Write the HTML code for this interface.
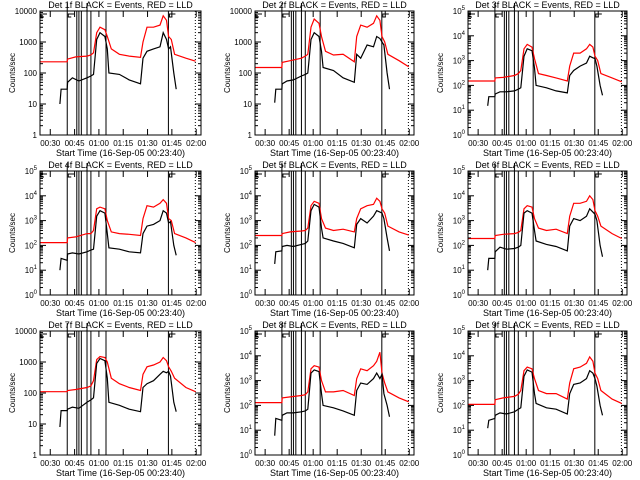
<!DOCTYPE html>
<html><head><meta charset="utf-8">
<style>
html,body{margin:0;padding:0;background:#fff;}
svg{display:block;font-family:"Liberation Sans",sans-serif;}
</style></head>
<body>
<svg id="chart" width="640" height="480" viewBox="0 0 640 480" xmlns="http://www.w3.org/2000/svg">
<rect width="640" height="480" fill="#fff"/>
</svg>
<script>
// Shared time axes (minutes after 16-Sep-05 00:23:40)
const redTimes = [0,16.8,17,22,29,31.4,33,35,37,40,41.5,44,49,55,62,63.5,66,70,74,76,78,79.3,81,83,90,96];
const blackTimes = [12.3,13,16.8,17,20,24,29,31.4,33,35,37,40,41.5,42.5,49,55,62,63.5,66,70,74,76,78,79.3,80.5,82.5,84];
const markerTimes = [16.8,22.7,24,25.5,29,31.4,40.7,79.2];
const dottedTime = 95.8;
const xTickLabels = ["00:30","00:45","01:00","01:15","01:30","01:45","02:00"];
const xTickTimes = [6.33,21.33,36.33,51.33,66.33,81.33,96.33];
const detNames = ["1f","2f","3f","4f","5f","6f","7f","8f","9f"];
const yTopDecade = [4,4,5,5,5,5,4,5,5];

const red1=[230,230,280,330,350,380,450,2000,3000,2500,1500,600,400,350,320,1000,3000,3000,3500,7000,5000,1500,1200,400,300,240];
const black1=[10,30,30,50,70,55,70,80,90,1200,2000,1500,600,100,90,60,45,300,500,600,700,2000,1200,600,700,100,30];
const red2=[150,150,220,250,300,350,400,3000,5500,4000,1500,500,380,400,230,1500,3500,3000,4000,7000,5000,1500,1000,400,250,160];
const black2=[11,30,30,45,55,60,80,90,100,1200,2000,1500,500,150,120,70,50,400,300,800,700,1500,1300,1000,800,100,30];
const red3=[150,150,200,210,250,300,400,3000,4500,3500,1200,300,250,200,150,600,2000,2000,3000,4500,3500,1500,1000,300,200,140];
const black3=[15,35,35,45,55,55,60,70,80,1500,3000,2500,500,100,80,60,50,250,400,600,800,1500,1300,1200,600,100,40];
const red4=[130,130,200,220,300,300,400,3000,3500,3000,1000,350,300,280,250,1200,4000,3500,5000,7000,5000,1200,1000,300,200,130];
const black4=[10,30,25,45,50,45,55,65,70,1500,2500,2000,300,80,70,55,50,300,600,700,1000,2500,2000,800,900,100,40];
const red5=[250,250,300,350,380,400,500,4000,6000,5000,1200,500,400,450,350,1200,3000,4000,4500,8000,6000,3000,2000,600,350,260];
const black5=[18,55,60,90,100,90,110,120,150,2500,4500,3500,500,200,150,120,80,700,1200,800,1500,2500,2200,2000,1200,200,60];
const red6=[190,190,250,280,300,330,400,3000,4000,3500,1200,500,400,450,300,1500,5000,5000,6000,10000,7000,2500,1500,600,300,190];
const black6=[10,30,30,55,85,70,75,85,100,2000,2500,2000,400,150,110,90,60,600,1200,1000,1500,3000,2200,1800,1000,100,35];
const red7=[110,110,120,130,150,170,250,1200,1500,1400,1000,300,200,150,120,400,700,800,1000,1400,1100,700,500,300,150,110];
const black7=[8,27,27,30,35,32,50,60,70,900,1300,1100,300,50,40,30,25,150,200,250,400,500,450,500,350,50,25];
const red8=[130,130,200,220,250,270,350,3000,4000,3500,1000,350,350,400,250,1200,3000,2500,4000,6000,14000,2000,800,350,200,140];
const black8=[6,30,25,40,50,50,55,60,70,2000,2700,2300,300,100,80,60,40,400,800,700,1200,2000,1200,1800,300,100,35];
const red9=[110,110,170,200,230,280,400,2500,3500,3000,1200,400,300,300,180,800,3000,3500,5000,9000,6000,2000,1200,400,180,120];
const black9=[12,25,30,40,50,45,55,70,80,1500,2700,2200,300,120,80,70,45,300,700,800,1200,2500,2000,1200,600,100,40];
const redSeries=[red1,red2,red3,red4,red5,red6,red7,red8,red9];
const blackSeries=[black1,black2,black3,black4,black5,black6,black7,black8,black9];

const NS="http://www.w3.org/2000/svg";
const svg=document.getElementById('chart');
const colX=[[40,201],[255,414],[468,627]];
const rowY=[[11,135],[171,295],[331,455]];
const TMAX=99.3;
function mk(tag,attrs,parent){const e=document.createElementNS(NS,tag);for(const k in attrs)e.setAttribute(k,attrs[k]);(parent||svg).appendChild(e);return e;}

for(let p=0;p<9;p++){
  const c=p%3,r=Math.floor(p/3);
  const x0=colX[c][0],x1=colX[c][1],y0=rowY[r][0],y1=rowY[r][1];
  const top=yTopDecade[p];
  const xs=t=>x0+(x1-x0)*t/TMAX;
  const ys=v=>y1-(y1-y0)*Math.log10(v)/top;
  const g=mk('g',{});
  
  

  markerTimes.forEach((t,i)=>{
    const ext=(i===0||i===4)?8:0;
    const l=mk('line',{x1:xs(t),x2:xs(t),y1:y0-ext,y2:y1,stroke:'#000','stroke-width':1},g);
    
    
  });
  const dl=mk('line',{x1:xs(dottedTime),x2:xs(dottedTime),y1:y0,y2:y1,stroke:'#000','stroke-width':1,'stroke-dasharray':'1,2'},g);
  
  
  [0,16.8,79.2].forEach(t=>{
    const b=mk('path',{d:`M${xs(t)+7},${y0+3}H${xs(t)+1}V${y0+6}H${xs(t)+4}`,fill:'none',stroke:'#000','stroke-width':1},g);
    
    
  });

  const rp=mk('polyline',{points:redTimes.map((t,i)=>xs(t).toFixed(1)+','+ys(redSeries[p][i]).toFixed(1)).join(' '),fill:'none',stroke:'#ff0000','stroke-width':1.2},g);
  
  
  const bp=mk('polyline',{points:blackTimes.map((t,i)=>xs(t).toFixed(1)+','+ys(blackSeries[p][i]).toFixed(1)).join(' '),fill:'none',stroke:'#000','stroke-width':1.2},g);
  
  

  const fr=mk('rect',{x:x0,y:y0,width:x1-x0,height:y1-y0,fill:'none',stroke:'#000','stroke-width':1},g);
  
  

  for(let d=0;d<=top;d++){
    const y=ys(Math.pow(10,d));
    mk('line',{x1:x0,x2:x0+6,y1:y,y2:y,stroke:'#000'},g);
    mk('line',{x1:x1,x2:x1-6,y1:y,y2:y,stroke:'#000'},g);
    if(d<top){for(let m=2;m<10;m++){const ym=ys(m*Math.pow(10,d));
      mk('line',{x1:x0,x2:x0+3,y1:ym,y2:ym,stroke:'#000'},g);
      mk('line',{x1:x1,x2:x1-3,y1:ym,y2:ym,stroke:'#000'},g);}}
    const tx=mk('text',{x:x0-3,y:y+3,'font-size':8,'text-anchor':'end',fill:'#000'},g);
    
    
    if(top===4){tx.textContent=String(Math.pow(10,d));}
    else{tx.textContent='10';const s=mk('tspan',{dy:-4,'font-size':6},tx);s.textContent=String(d);}
  }
  xTickTimes.forEach((t,i)=>{
    const x=xs(t);
    mk('line',{x1:x,x2:x,y1:y1,y2:y1-6,stroke:'#000'},g);
    mk('line',{x1:x,x2:x,y1:y0,y2:y0+6,stroke:'#000'},g);
    const tx=mk('text',{x:x,y:y1+11,'font-size':8,'text-anchor':'middle',fill:'#000'},g);
    
    
    tx.textContent=xTickLabels[i];
  });
  const xl=mk('text',{x:(x0+x1)/2,y:y1+21,'font-size':9,'text-anchor':'middle',fill:'#000'},g);
  
  
  xl.textContent='Start Time (16-Sep-05 00:23:40)';
  const yl=mk('text',{x:0,y:0,'font-size':8,'text-anchor':'middle',fill:'#000',transform:`translate(${x0-25},${(y0+y1)/2}) rotate(-90)`},g);
  
  
  yl.textContent='Counts/sec';
  const tl=mk('text',{x:(x0+x1)/2,y:y0-3,'font-size':9,'text-anchor':'middle',fill:'#000'},g);
  
  
  tl.textContent='Det '+detNames[p]+' BLACK = Events, RED = LLD';
}
</script>
</body></html>
